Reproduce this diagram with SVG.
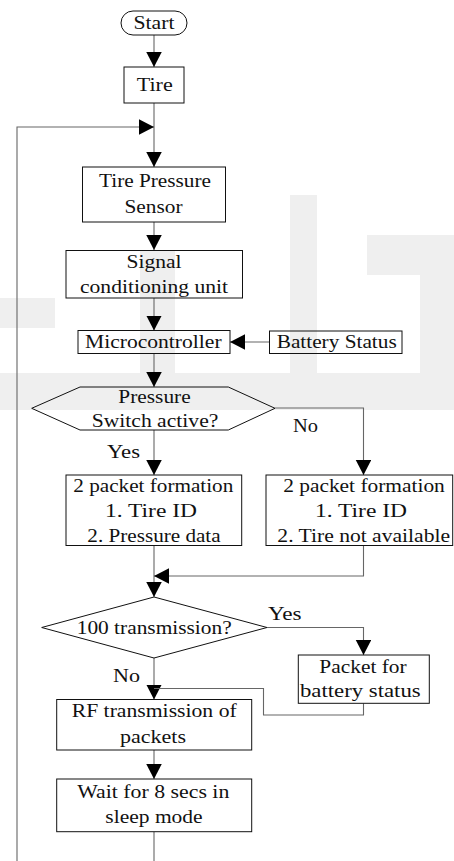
<svg xmlns="http://www.w3.org/2000/svg" width="454" height="861" viewBox="0 0 454 861">
<style>
.box{fill:none;stroke:#111;stroke-width:1}
.c{fill:none;stroke:#666;stroke-width:1.1}
.wm{fill:#efefef;stroke:none}
.t{font-size:19px;fill:#111;text-anchor:middle}
</style>
<defs>
<marker id="ah" markerUnits="userSpaceOnUse" markerWidth="16" markerHeight="16" refX="15" refY="7.75" orient="auto">
<path d="M0,0 L15,7.75 L0,15.5 z" fill="#000"/>
</marker>
</defs>
<rect width="454" height="861" fill="#fff"/>
<g id="watermark">
<rect class="wm" x="0" y="298" width="55" height="30"/>
<rect class="wm" x="290" y="195" width="27" height="180"/>
<rect class="wm" x="367" y="235" width="87" height="40"/>
<rect class="wm" x="420" y="235" width="34" height="140"/>
<rect class="wm" x="0" y="373" width="454" height="37"/>
<rect class="wm" x="140" y="250" width="35" height="125"/>
</g>
<g id="connectors">
<line class="c" x1="154" y1="35" x2="154" y2="67" marker-end="url(#ah)"/>
<line class="c" x1="154" y1="103" x2="154" y2="167" marker-end="url(#ah)"/>
<polyline class="c" points="17,861 17,127 154,127" marker-end="url(#ah)"/>
<line class="c" x1="154" y1="222" x2="154" y2="250" marker-end="url(#ah)"/>
<line class="c" x1="154" y1="298" x2="154" y2="330.5" marker-end="url(#ah)"/>
<line class="c" x1="269" y1="342" x2="230" y2="342" marker-end="url(#ah)"/>
<line class="c" x1="154" y1="353" x2="154" y2="387" marker-end="url(#ah)"/>
<line class="c" x1="154" y1="430" x2="154" y2="475" marker-end="url(#ah)"/>
<polyline class="c" points="275,408 363.5,408 363.5,475" marker-end="url(#ah)"/>
<line class="c" x1="154" y1="545.5" x2="154" y2="597" marker-end="url(#ah)"/>
<polyline class="c" points="363.5,545.5 363.5,576 154,576" marker-end="url(#ah)"/>
<polyline class="c" points="267,627.5 363.5,627.5 363.5,655" marker-end="url(#ah)"/>
<line class="c" x1="154" y1="658" x2="154" y2="699.5" marker-end="url(#ah)"/>
<polyline class="c" points="363.5,703.5 363.5,715 263.5,715 263.5,688.5 154,688.5"/>
<line class="c" x1="154" y1="750" x2="154" y2="779" marker-end="url(#ah)"/>
<line class="c" x1="154" y1="832" x2="154" y2="861"/>
</g>
<g id="start">
<rect class="box" x="121" y="11" width="66" height="24" rx="12"/>
<text class="t" font-family="Liberation Serif" x="154" y="29.3" textLength="41" lengthAdjust="spacingAndGlyphs">Start</text>
</g>
<g id="tire">
<rect class="box" x="124" y="67" width="60" height="36"/>
<text class="t" font-family="Liberation Serif" x="154.7" y="90.7" textLength="36" lengthAdjust="spacingAndGlyphs">Tire</text>
</g>
<g id="sensor">
<rect class="box" x="82.5" y="167" width="143" height="55"/>
<text class="t" font-family="Liberation Serif" x="155" y="187.3" textLength="112" lengthAdjust="spacingAndGlyphs">Tire Pressure</text>
<text class="t" font-family="Liberation Serif" x="153.5" y="212.7" textLength="58" lengthAdjust="spacingAndGlyphs">Sensor</text>
</g>
<g id="signal">
<rect class="box" x="66" y="250.5" width="176.5" height="47.5"/>
<text class="t" font-family="Liberation Serif" x="154" y="268.3" textLength="55" lengthAdjust="spacingAndGlyphs">Signal</text>
<text class="t" font-family="Liberation Serif" x="154" y="292.7" textLength="148" lengthAdjust="spacingAndGlyphs">conditioning unit</text>
</g>
<g id="micro">
<rect class="box" x="78" y="330.5" width="152" height="23"/>
<text class="t" font-family="Liberation Serif" x="153.3" y="348.3" textLength="136.7" lengthAdjust="spacingAndGlyphs">Microcontroller</text>
</g>
<g id="battery">
<rect class="box" x="269.5" y="331" width="132.5" height="22.5"/>
<text class="t" font-family="Liberation Serif" x="336.7" y="348.3" textLength="120" lengthAdjust="spacingAndGlyphs">Battery Status</text>
</g>
<g id="pressure-switch">
<polygon class="box" points="80,387 228.3,387 275,408.3 228.3,430 80,430 31.7,408.3"/>
<text class="t" font-family="Liberation Serif" x="154.5" y="402.7" textLength="72.3" lengthAdjust="spacingAndGlyphs">Pressure</text>
<text class="t" font-family="Liberation Serif" x="155" y="426.7" textLength="126.7" lengthAdjust="spacingAndGlyphs">Switch active?</text>
</g>
<text class="t" font-family="Liberation Serif" x="305.5" y="431.7" textLength="25" lengthAdjust="spacingAndGlyphs">No</text>
<text class="t" font-family="Liberation Serif" x="123.5" y="458.3" textLength="33" lengthAdjust="spacingAndGlyphs">Yes</text>
<g id="packet-yes">
<rect class="box" x="66" y="475" width="175.7" height="70.5"/>
<text class="t" font-family="Liberation Serif" x="153.3" y="491.7" textLength="160" lengthAdjust="spacingAndGlyphs">2 packet formation</text>
<text class="t" font-family="Liberation Serif" x="151" y="516.7" textLength="92" lengthAdjust="spacingAndGlyphs">1. Tire ID</text>
<text class="t" font-family="Liberation Serif" x="154" y="541.7" textLength="133.3" lengthAdjust="spacingAndGlyphs">2. Pressure data</text>
</g>
<g id="packet-no">
<rect class="box" x="266" y="475" width="186.7" height="70.5"/>
<text class="t" font-family="Liberation Serif" x="364" y="491.7" textLength="161.7" lengthAdjust="spacingAndGlyphs">2 packet formation</text>
<text class="t" font-family="Liberation Serif" x="361" y="516.7" textLength="92" lengthAdjust="spacingAndGlyphs">1. Tire ID</text>
<text class="t" font-family="Liberation Serif" x="363.7" y="541.7" textLength="172.7" lengthAdjust="spacingAndGlyphs">2. Tire not available</text>
</g>
<g id="transmission">
<polygon class="box" points="154,597 267,627.5 154,658 41.7,627.5"/>
<text class="t" font-family="Liberation Serif" x="154.2" y="634" textLength="155" lengthAdjust="spacingAndGlyphs">100 transmission?</text>
</g>
<text class="t" font-family="Liberation Serif" x="284.8" y="620" textLength="33.7" lengthAdjust="spacingAndGlyphs">Yes</text>
<text class="t" font-family="Liberation Serif" x="126.5" y="681.7" textLength="27" lengthAdjust="spacingAndGlyphs">No</text>
<g id="battery-packet">
<rect class="box" x="298.3" y="655" width="131" height="48.3"/>
<text class="t" font-family="Liberation Serif" x="363" y="673.3" textLength="87.3" lengthAdjust="spacingAndGlyphs">Packet for</text>
<text class="t" font-family="Liberation Serif" x="360.3" y="696.7" textLength="120.7" lengthAdjust="spacingAndGlyphs">battery status</text>
</g>
<g id="rf">
<rect class="box" x="56.7" y="699.5" width="195" height="50.5"/>
<text class="t" font-family="Liberation Serif" x="154.2" y="716.7" textLength="165" lengthAdjust="spacingAndGlyphs">RF transmission of</text>
<text class="t" font-family="Liberation Serif" x="153" y="743.3" textLength="66" lengthAdjust="spacingAndGlyphs">packets</text>
</g>
<g id="wait">
<rect class="box" x="56.7" y="779" width="195" height="52.7"/>
<text class="t" font-family="Liberation Serif" x="153.3" y="798.3" textLength="152" lengthAdjust="spacingAndGlyphs">Wait for 8 secs in</text>
<text class="t" font-family="Liberation Serif" x="154" y="823.3" textLength="97.3" lengthAdjust="spacingAndGlyphs">sleep mode</text>
</g>
</svg>
